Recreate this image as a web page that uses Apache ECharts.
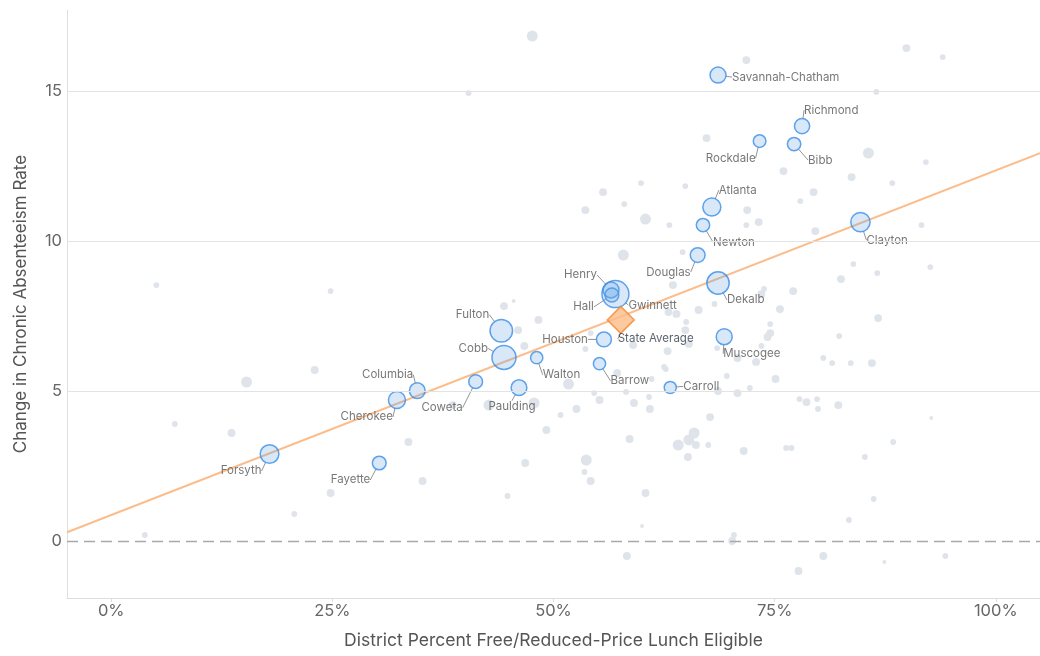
<!DOCTYPE html>
<html>
<head>
<meta charset="utf-8">
<script src="https://cdn.jsdelivr.net/npm/echarts@6/dist/echarts.min.js"></script>
<style>
html,body{margin:0;padding:0;background:#fff;}
#chart{width:1040px;height:656px;}
</style>
</head>
<body>
<div id="chart"></div>
<script>
// ---------- DATA ----------
// Highlighted districts: name, % free/reduced lunch, change in chronic absenteeism, enrollment (thousands)
const districtNames = ['Savannah-Chatham','Richmond','Rockdale','Bibb','Atlanta','Newton','Clayton','Douglas','Dekalb','Henry','Hall','Gwinnett','Fulton','Cobb','Houston','Walton','Barrow','Carroll','Muscogee','Paulding','Coweta','Columbia','Cherokee','Forsyth','Fayette'];
const districtFRL = [68.6,78.1,73.3,77.2,67.9,66.9,84.7,66.3,68.6,56.5,56.6,57.0,44.1,44.4,55.7,48.1,55.2,63.2,69.3,46.1,41.2,34.6,32.3,17.9,30.3];
const districtChange = [15.53,13.83,13.33,13.23,11.13,10.53,10.63,9.53,8.6,8.37,8.2,8.23,7.01,6.12,6.72,6.11,5.91,5.12,6.81,5.11,5.31,5.01,4.7,2.9,2.6];
const districtEnroll = [53,48,33,37,67,37,77,45,103,53,40,151,105,119,46,31,31,30,53,51,39,51,60,72,39];

// Other districts (grey dots)
const otherFRL = [47.6,71.8,89.9,94.0,40.4,86.5,67.3,85.6,83.7,92.1,88.3,76.0,79.4,77.9,64.9,59.9,55.6,58.0,53.6,60.4,63.1,71.9,73.2,71.8,79.6,91.6,64.6,57.9,83.9,86.6,82.5,92.6,63.5,77.1,73.8,73.5,68.2,66.4,63.0,63.9,65.0,64.9,65.3,62.9,62.7,61.1,75.6,74.5,74.5,74.2,73.5,72.9,68.5,70.8,69.6,75.1,72.2,68.6,70.8,86.7,82.3,80.5,81.5,83.6,86.0,77.8,78.6,79.8,79.9,82.2,92.7,67.7,65.9,65.3,64.1,66.1,67.5,65.2,71.5,76.3,76.9,88.4,85.2,86.2,83.4,70.2,70.4,80.5,87.4,94.3,77.7,60.8,60.9,60.4,60.0,58.3,58.6,59.1,57.2,55.2,54.6,53.7,53.5,54.2,52.6,50.8,51.7,49.2,47.8,46.8,44.8,42.7,38.6,33.6,35.2,24.8,20.7,23.0,24.8,15.3,13.6,7.2,5.1,3.8,44.4,45.5,46.0,48.3,46.7,53.6,54.2,59.0,62.5,58.2,60.1];
const otherChange = [16.83,16.03,16.43,16.13,14.93,14.97,13.43,12.93,12.13,12.63,11.93,12.33,11.63,11.33,11.83,11.93,11.63,11.23,11.03,10.73,10.53,11.03,10.63,10.53,10.33,10.53,9.63,9.53,9.23,8.93,8.73,9.13,8.53,8.33,8.4,8.23,7.9,7.7,7.63,7.57,7.3,7.03,6.57,6.33,5.73,5.4,7.73,7.23,6.93,6.8,6.5,5.97,6.43,6.1,5.5,5.4,5.1,5.0,4.93,7.43,6.83,6.1,5.93,5.93,5.93,4.73,4.63,4.73,4.4,4.53,4.1,4.13,3.6,3.37,3.2,3.2,3.2,2.8,3.0,3.1,3.1,3.3,2.8,1.4,0.7,0.0,0.2,-0.5,-0.7,-0.5,-1.0,4.8,4.4,1.6,0.5,-0.5,3.4,4.6,5.6,4.7,4.93,2.7,2.3,2.0,4.4,4.2,5.23,3.7,4.6,2.6,1.5,4.53,4.53,3.3,2.0,1.6,0.9,5.7,8.33,5.3,3.6,3.9,8.53,0.2,7.83,8.0,7.03,7.37,6.5,6.4,6.93,6.53,5.8,4.97,7.07];
const otherEnroll = [25,13,13,7,7,7,13,25,13,7,7,13,13,7,7,7,13,7,13,25,7,13,13,7,13,7,7,25,7,7,13,7,13,13,7,13,7,13,13,13,7,13,13,13,7,7,13,7,13,13,7,13,7,13,7,13,7,13,13,13,7,7,7,7,13,7,13,7,7,13,3,13,25,25,25,13,7,13,13,7,7,7,7,7,7,13,7,13,3,7,13,7,13,13,3,13,13,13,13,13,7,25,7,13,13,7,25,13,25,13,7,25,13,13,13,13,7,13,7,25,13,7,7,7,13,3,13,13,13,7,7,13,7,7];

// State average
const stateAvgName = 'State Average';
const stateAvgFRL = 57.6;
const stateAvgChange = 7.37;

// Trend line end points
const trendFRL = [-5, 105];
const trendChange = [0.29, 12.93];

// Axis ticks
const xTicks = [0, 25, 50, 75, 100];
const yTicks = [0, 5, 10, 15];
const gridValues = [5, 10, 15];

// ---------- LAYOUT / STYLE ----------
const FONT = 'Inter, "Noto Sans", sans-serif';
const sizeOf = e => 2.2 * Math.sqrt(e);
// label anchor offsets from the bubble centre [dx, dy, align]
const labelPlace = {
  'Savannah-Chatham':[14,2,'left'], 'Richmond':[2,-16,'left'], 'Rockdale':[-4,17,'right'],
  'Bibb':[14,16,'left'], 'Atlanta':[7,-17,'left'], 'Newton':[10,17,'left'], 'Clayton':[6,18,'left'],
  'Douglas':[-7,17,'right'], 'Dekalb':[9,17,'left'], 'Henry':[-14,-15,'right'], 'Hall':[-18,12,'right'],
  'Gwinnett':[13,11,'left'], 'Fulton':[-12,-16,'right'], 'Cobb':[-16,-9,'right'], 'Houston':[-16,0,'right'],
  'Walton':[6,17,'left'], 'Barrow':[11,17,'left'], 'Carroll':[13,-1,'left'], 'Muscogee':[-1,17,'left'],
  'Paulding':[-7,19,'center'], 'Coweta':[-13,26,'right'], 'Columbia':[-4,-16,'right'],
  'Cherokee':[-4,17,'right'], 'Forsyth':[-8,17,'right'], 'Fayette':[-9,17,'right'],
  'State Average':[-3,19,'left']
};

function layoutLabel(params) {
  const r = params.rect;
  const cx = r.x + r.width / 2, cy = r.y + r.height / 2;
  const p = labelPlace[params.text] || [10, 0, 'left'];
  return { x: cx + p[0], y: cy + p[1], align: p[2], verticalAlign: 'middle', hideOverlap: false };
}

const otherData = otherFRL.map((x, i) => [x, otherChange[i], otherEnroll[i]]);
const districtData = districtNames.map((n, i) => ({ name: n, value: [districtFRL[i], districtChange[i], districtEnroll[i]] }));
const trendData = trendFRL.map((x, i) => [x, trendChange[i]]);

const chart = echarts.init(document.getElementById('chart'), null, { renderer: 'canvas' });
chart.setOption({
  animation: false,
  backgroundColor: '#ffffff',
  textStyle: { fontFamily: FONT },
  grid: { left: 67, right: 0, top: 10, bottom: 58 },
  xAxis: {
    type: 'value', min: -5, max: 105,
    name: 'District Percent Free/Reduced-Price Lunch Eligible',
    nameLocation: 'middle', nameGap: 34,
    nameTextStyle: { fontSize: 17.5, color: '#555', fontFamily: FONT },
    axisLine: { show: true, onZero: false, lineStyle: { color: '#dedede', width: 1 } },
    axisTick: { show: true, length: 4, customValues: xTicks, lineStyle: { color: '#dedede' } },
    axisLabel: { customValues: xTicks, fontSize: 16.5, color: '#666', margin: 5, fontFamily: FONT,
      formatter: v => (xTicks.indexOf(v) >= 0 ? v + '%' : '') },
    splitLine: { show: false }
  },
  yAxis: {
    type: 'value', min: -1.9, max: 17.7,
    name: 'Change in Chronic Absenteeism Rate',
    nameLocation: 'middle', nameGap: 38,
    nameTextStyle: { fontSize: 17, color: '#555', fontFamily: FONT },
    axisLine: { show: true, onZero: false, lineStyle: { color: '#dedede', width: 1 } },
    axisTick: { show: false, customValues: yTicks },
    axisLabel: { customValues: yTicks, fontSize: 16.5, color: '#666', margin: 5, fontFamily: FONT,
      formatter: v => (yTicks.indexOf(v) >= 0 ? String(v) : '') },
    splitLine: { show: false }
  },
  series: [
    {
      type: 'scatter', name: 'Other districts', z: 1,
      data: otherData,
      symbolSize: v => sizeOf(v[2]),
      itemStyle: { color: '#dfe4ea', opacity: 1 },
      silent: true,
      markLine: {
        silent: true, symbol: ['none', 'none'], label: { show: false },
        data: gridValues.map(v => ({ yAxis: v, lineStyle: { color: '#e3e3e3', width: 1, type: 'solid' } }))
          .concat([{ yAxis: 0, lineStyle: { color: '#a9a9a9', width: 1.3, type: [11, 6] } }])
      }
    },
    {
      type: 'line', name: 'Trend', z: 2, data: trendData, showSymbol: false, symbol: 'none',
      lineStyle: { color: '#fbbd8c', width: 2 }, silent: true
    },
    {
      type: 'scatter', name: 'Large districts', z: 3,
      data: districtData,
      symbolSize: v => sizeOf(v[2]),
      itemStyle: { color: 'rgba(95,160,232,0.30)', borderColor: '#3a8de6', borderWidth: 1.5 },
      label: { show: true, formatter: p => p.name, fontSize: 11.5, color: '#555', fontFamily: FONT },
      labelLine: { show: true, lineStyle: { color: '#777', width: 0.8 } },
      labelLayout: layoutLabel
    },
    {
      type: 'scatter', name: 'State average', z: 4,
      data: [{ name: stateAvgName, value: [stateAvgFRL, stateAvgChange] }],
      symbol: 'diamond', symbolSize: [27, 27],
      itemStyle: { color: '#fdbb86', borderColor: '#f08a33', borderWidth: 1.5 },
      label: { show: true, formatter: p => p.name, fontSize: 11.5, color: '#2f3a4a', fontFamily: FONT },
      labelLine: { show: true, lineStyle: { color: '#777', width: 0.8 } },
      labelLayout: layoutLabel
    }
  ]
});
</script>
</body>
</html>
